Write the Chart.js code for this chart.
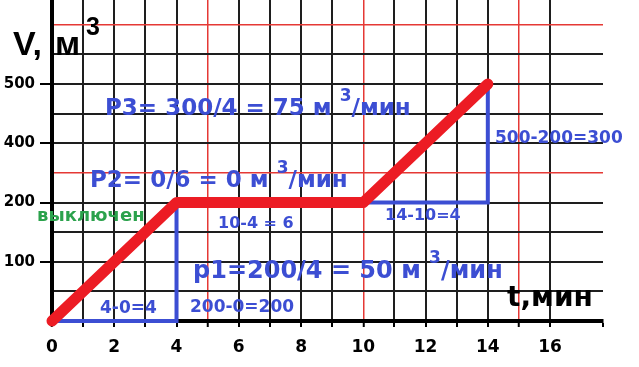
<!DOCTYPE html>
<html>
<head>
<meta charset="utf-8">
<script src="https://cdn.jsdelivr.net/npm/chart.js@4.4.0/dist/chart.umd.min.js"></script>
<style>
  html, body { margin: 0; padding: 0; background: #fff; }
  #wrap { width: 639px; height: 367px; }
</style>
</head>
<body>
<div id="wrap"><canvas id="tank"></canvas></div>
<script>
// t, min
const times = [0, 4, 10, 14];
// V, m3
const volumes = [0, 200, 200, 500];
// y labels as printed on the sketch; each one sits one grid step above the last
const yTickValues = [0, 100, 200, 400, 500];
const yLabelValues = [100, 200, 400, 500];
const xLabelValues = [0, 2, 4, 6, 8, 10, 12, 14, 16];
// segments that get a rise/run triangle
const legSegments = [0, 2];

const BLUE = '#3c4ed3';
const RED = '#ec1c24';
const GRID = '#1e1e1e';
const GRID_RED = '#e53935';

// value <-> step index along the drawn y axis
function toIndex(v) {
    const t = yTickValues, n = t.length;
    for (let i = 1; i < n; i++) {
        if (v <= t[i] || i === n - 1) return i - 1 + (v - t[i - 1]) / (t[i] - t[i - 1]);
    }
}
function fromIndex(k) {
    const t = yTickValues, n = t.length;
    const i = Math.min(Math.max(Math.floor(k), 0), n - 2);
    return t[i] + (k - i) * (t[i + 1] - t[i]);
}

class SketchScale extends Chart.LinearScale {
    buildTicks() {
        this.start = this.min;
        this.end = this.max;
        const top = toIndex(this.max);
        const ticks = [];
        for (let k = 0; k <= top + 1e-6; k += 0.5) ticks.push({ value: fromIndex(k) });
        return ticks;
    }
    getPixelForValue(v) {
        const a = toIndex(this.min), b = toIndex(this.max);
        return this.getPixelForDecimal((toIndex(v) - a) / (b - a));
    }
    getValueForPixel(p) {
        const a = toIndex(this.min), b = toIndex(this.max);
        return fromIndex(a + this.getDecimalForPixel(p) * (b - a));
    }
}
SketchScale.id = 'sketch';
SketchScale.defaults = {};
Chart.register(SketchScale);

const linePoints = times.map((t, i) => ({ x: t, y: volumes[i] }));
const legs = [];
legSegments.forEach(i => {
    if (legs.length) legs.push({ x: times[i], y: null });
    legs.push({ x: times[i], y: volumes[i] });
    legs.push({ x: times[i + 1], y: volumes[i] });
    legs.push({ x: times[i + 1], y: volumes[i + 1] });
});

// text written on the sketch: [parts, x, baseline, size, color]
const notes = [
    [[['P3= 300/4 = 75 м ', 0], ['3', 1], ['/мин', 0]], 105, 115, 23, BLUE],
    [[['P2= 0/6 = 0 м ', 0], ['3', 1], ['/мин', 0]], 90, 187, 23, BLUE],
    [[['p1=200/4 = 50 м ', 0], ['3', 1], ['/мин', 0]], 193, 278, 24, BLUE],
    [[['10-4 = 6', 0]], 218, 228, 16, BLUE],
    [[['14-10=4', 0]], 385, 220, 16, BLUE],
    [[['500-200=300', 0]], 495, 143, 17, BLUE],
    [[['4-0=4', 0]], 100, 313, 17, BLUE],
    [[['200-0=200', 0]], 190, 312, 17, BLUE],
    [[['выключен', 0]], 37, 221, 18, '#2ba24c']
];

function drawParts(ctx, x, y, parts, size, color, family) {
    ctx.save();
    ctx.fillStyle = color;
    ctx.textBaseline = 'alphabetic';
    ctx.textAlign = 'left';
    parts.forEach(([txt, sup]) => {
        const fs = sup ? Math.round(size * 0.72) : size;
        ctx.font = `bold ${fs}px ${family || '"DejaVu Sans"'}`;
        ctx.fillText(txt, x, sup ? y - size * 0.62 : y);
        x += ctx.measureText(txt).width;
    });
    ctx.restore();
}

const sketchText = {
    id: 'sketchText',
    afterDatasetsDraw(chart) {
        const ctx = chart.ctx;
        notes.forEach(([parts, x, y, size, color]) => drawParts(ctx, x, y, parts, size, color));
        drawParts(ctx, 13, 55, [['V,', 0]], 34, '#000', '"Liberation Sans"');
        drawParts(ctx, 55, 55, [['м', 0]], 34, '#000', '"Liberation Sans"');
        drawParts(ctx, 86, 35, [['3', 0]], 25, '#000', '"Liberation Sans"');
        drawParts(ctx, 507, 306, [['t,мин', 0]], 28, '#000');
    }
};

const isRedY = tick => {
    if (!tick) return false;
    const cell = Math.round(toIndex(tick.value) * 2);
    return cell > 0 && cell % 5 === 0;
};

new Chart(document.getElementById('tank'), {
    type: 'scatter',
    data: {
        datasets: [
            {
                data: linePoints,
                showLine: true,
                borderColor: RED,
                borderWidth: 11,
                borderCapStyle: 'round',
                borderJoinStyle: 'round',
                pointRadius: 0,
                clip: false
            },
            {
                data: legs,
                showLine: true,
                spanGaps: false,
                borderColor: BLUE,
                borderWidth: 4,
                pointRadius: 0,
                clip: false
            }
        ]
    },
    options: {
        responsive: true,
        maintainAspectRatio: false,
        animation: false,
        events: [],
        layout: { padding: { left: 0, right: 36, top: 0, bottom: 0 } },
        plugins: { legend: { display: false }, tooltip: { enabled: false } },
        scales: {
            x: {
                type: 'linear',
                min: 0,
                max: 17.7,
                border: { color: '#000', width: 4 },
                grid: {
                    color: ctx => {
                        const v = ctx.tick && ctx.tick.value;
                        if (!Number.isInteger(v)) return 'rgba(0,0,0,0)';
                        return v > 0 && v % 5 === 0 ? GRID_RED : GRID;
                    },
                    lineWidth: ctx => (ctx.tick && ctx.tick.value % 5 === 0 ? 1.5 : 2),
                    tickLength: 6,
                    tickWidth: 2,
                    tickColor: '#000'
                },
                ticks: {
                    stepSize: 1,
                    autoSkip: false,
                    maxRotation: 0,
                    padding: 10,
                    color: '#000',
                    font: { family: 'DejaVu Sans', weight: 'bold', size: 17 },
                    callback: v => (xLabelValues.includes(v) ? String(v) : '')
                },
                afterFit: s => { s.height = 46; s.paddingLeft = 0; s.paddingRight = 0; }
            },
            y: {
                type: 'sketch',
                min: 0,
                max: 642,
                border: { color: '#000', width: 4 },
                grid: {
                    color: ctx => (isRedY(ctx.tick) ? GRID_RED : GRID),
                    lineWidth: ctx => (isRedY(ctx.tick) ? 1.5 : 2),
                    tickLength: 12,
                    tickWidth: 2,
                    tickColor: ctx => (ctx.tick && yLabelValues.includes(Math.round(ctx.tick.value)) ? '#000' : 'rgba(0,0,0,0)')
                },
                ticks: {
                    autoSkip: false,
                    padding: 5,
                    color: '#000',
                    font: { family: 'DejaVu Sans', weight: 'bold', size: 15 },
                    callback: v => (yLabelValues.includes(Math.round(v)) ? String(Math.round(v)) : '')
                },
                afterFit: s => { s.width = 52; s.paddingTop = 0; s.paddingBottom = 0; }
            }
        }
    },
    plugins: [sketchText]
});
</script>
</body>
</html>
